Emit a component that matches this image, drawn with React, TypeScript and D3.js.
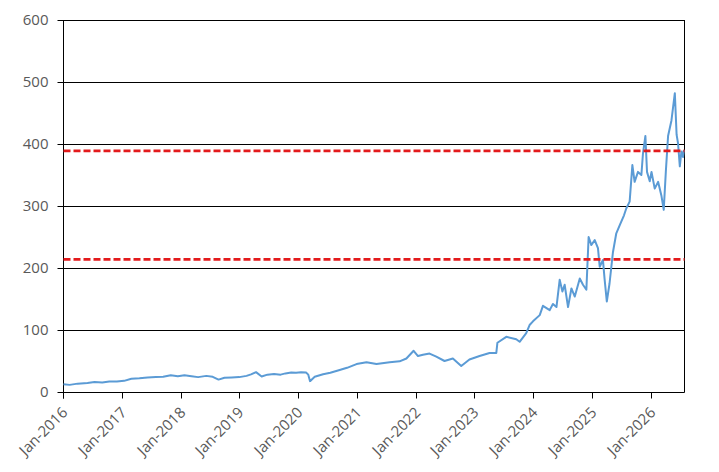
import * as d3 from 'd3';

const dates = [
  '2016-01-04', '2016-02-11', '2016-04-01', '2016-06-01', '2016-07-15', '2016-09-01', '2016-10-15', '2016-12-01',
  '2017-01-15', '2017-03-01', '2017-04-20', '2017-06-10', '2017-08-01', '2017-09-15', '2017-11-01', '2017-12-15',
  '2018-01-25', '2018-03-10', '2018-04-20', '2018-06-10', '2018-07-20', '2018-08-25', '2018-10-01', '2018-11-15',
  '2019-01-01', '2019-02-15', '2019-03-15', '2019-04-15', '2019-05-20', '2019-06-25', '2019-08-05', '2019-09-15',
  '2019-10-15', '2019-11-20', '2019-12-20', '2020-01-20', '2020-02-20', '2020-03-05', '2020-03-16', '2020-04-14',
  '2020-06-05', '2020-07-20', '2020-09-16', '2020-11-01', '2020-12-30', '2021-03-02', '2021-05-03', '2021-07-24',
  '2021-09-24', '2021-11-05', '2021-12-20', '2022-01-16', '2022-02-16', '2022-03-29', '2022-05-10', '2022-06-30',
  '2022-08-21', '2022-10-12', '2022-12-02', '2023-02-03', '2023-04-06', '2023-05-18', '2023-05-25', '2023-07-19',
  '2023-09-19', '2023-10-10', '2023-11-20', '2023-12-11', '2024-01-01', '2024-02-12', '2024-03-03', '2024-04-14',
  '2024-05-04', '2024-05-26', '2024-06-15', '2024-07-02', '2024-07-16', '2024-08-06', '2024-08-27', '2024-09-17',
  '2024-10-18', '2024-11-07', '2024-11-28', '2024-12-12', '2024-12-29', '2025-01-19', '2025-02-08', '2025-02-19',
  '2025-03-11', '2025-03-21', '2025-04-04', '2025-04-21', '2025-05-12', '2025-06-02', '2025-06-25', '2025-07-20',
  '2025-08-03', '2025-08-24', '2025-09-10', '2025-09-24', '2025-10-15', '2025-11-05', '2025-11-15', '2025-11-30',
  '2025-12-10', '2025-12-27', '2026-01-07', '2026-01-27', '2026-02-17', '2026-03-10', '2026-03-24', '2026-04-06',
  '2026-04-20', '2026-05-11', '2026-06-01', '2026-06-12', '2026-06-21', '2026-07-02', '2026-07-12', '2026-07-22',
  '2026-07-27',
];

const prices = [
  12.5, 11.5, 13.5, 14.5, 16, 15.5, 17, 17,
  18, 21.5, 22, 23.5, 24, 24.5, 27, 25.5,
  27, 25.5, 24, 26, 24.5, 20, 23, 23.5,
  24, 26, 28.5, 32, 25, 28, 29, 28,
  30, 31.5, 31, 32, 31.5, 28, 17.5, 24.5,
  28.5, 31, 35.5, 39, 45, 48, 45, 48,
  49.5, 54, 66.5, 58, 60, 62, 57, 50,
  54, 42, 52.5, 58, 63, 63, 79.5, 89,
  85, 81, 95, 108, 114, 124, 139, 132,
  142, 137, 181, 162, 173, 137, 167, 154,
  183, 173, 165, 250, 237, 245, 232, 202,
  213, 183, 146, 175, 225, 256, 270, 285,
  296, 307, 366, 339, 355, 350, 385, 413,
  355, 340, 355, 328, 339, 316, 294, 355,
  413, 438, 482, 415, 401, 364, 388, 379,
  390,
];

const refLevels = [389, 214];
const yTicks = [0, 100, 200, 300, 400, 500, 600];
const xTickYears = [2016, 2017, 2018, 2019, 2020, 2021, 2022, 2023, 2024, 2025, 2026];

const parse = d3.utcParse('%Y-%m-%d');
const fmt = d3.utcFormat('%b-%Y');

export default function App() {
  const width = 719;
  const height = 472;
  const margin = { top: 20, right: 35, bottom: 80, left: 63 };

  const series = dates.map((d, i) => ({ date: parse(d) as Date, value: prices[i] }));

  const x = d3
    .scaleUtc()
    .domain([Date.UTC(2016, 0, 1), Date.UTC(2026, 6, 28)])
    .range([margin.left, width - margin.right]);
  const y = d3.scaleLinear().domain([0, 600]).range([height - margin.bottom, margin.top]);

  const linePath =
    d3
      .line<{ date: Date; value: number }>()
      .x((d) => x(d.date))
      .y((d) => y(d.value))(series) ?? '';

  const font = "'Open Sans', 'DejaVu Sans', sans-serif";
  const x0 = margin.left + 0.5;
  const x1 = width - margin.right + 0.5;
  const yBottom = y(0) + 0.5;

  return (
    <svg
      width={width}
      height={height}
      viewBox={`0 0 ${width} ${height}`}
      style={{ position: 'absolute', left: 0, top: 0, background: '#fff' }}
    >
      {yTicks.map((t) => (
        <g key={t}>
          <line x1={x0 - 6} x2={x1} y1={y(t) + 0.5} y2={y(t) + 0.5} stroke="#000" strokeWidth={1} />
          <text x={x0 - 15} y={y(t)} dy="0.36em" textAnchor="end" fontFamily={font} fontSize={15} fill="#595959">
            {t}
          </text>
        </g>
      ))}

      <line x1={x0} x2={x0} y1={margin.top} y2={yBottom + 6} stroke="#000" strokeWidth={1} />
      <line x1={x1} x2={x1} y1={margin.top} y2={yBottom} stroke="#000" strokeWidth={1} />

      {xTickYears.map((yr) => {
        const tx = Math.round(x(Date.UTC(yr, 0, 1))) + 0.5;
        return (
          <g key={yr}>
            <line x1={tx} x2={tx} y1={yBottom} y2={yBottom + 6} stroke="#000" strokeWidth={1} />
            <text
              transform={`translate(${tx + 5},${yBottom + 21}) rotate(-45)`}
              textAnchor="end"
              fontFamily={font}
              fontSize={15}
              fill="#595959"
            >
              {fmt(new Date(Date.UTC(yr, 0, 1)))}
            </text>
          </g>
        );
      })}

      <path d={linePath} fill="none" stroke="#5B9BD5" strokeWidth={2} strokeLinejoin="round" />

      {refLevels.map((v) => (
        <line
          key={v}
          x1={x0}
          x2={x1}
          y1={y(v)}
          y2={y(v)}
          stroke="#E31A1C"
          strokeWidth={2.8}
          strokeDasharray="7 3"
        />
      ))}
    </svg>
  );
}
